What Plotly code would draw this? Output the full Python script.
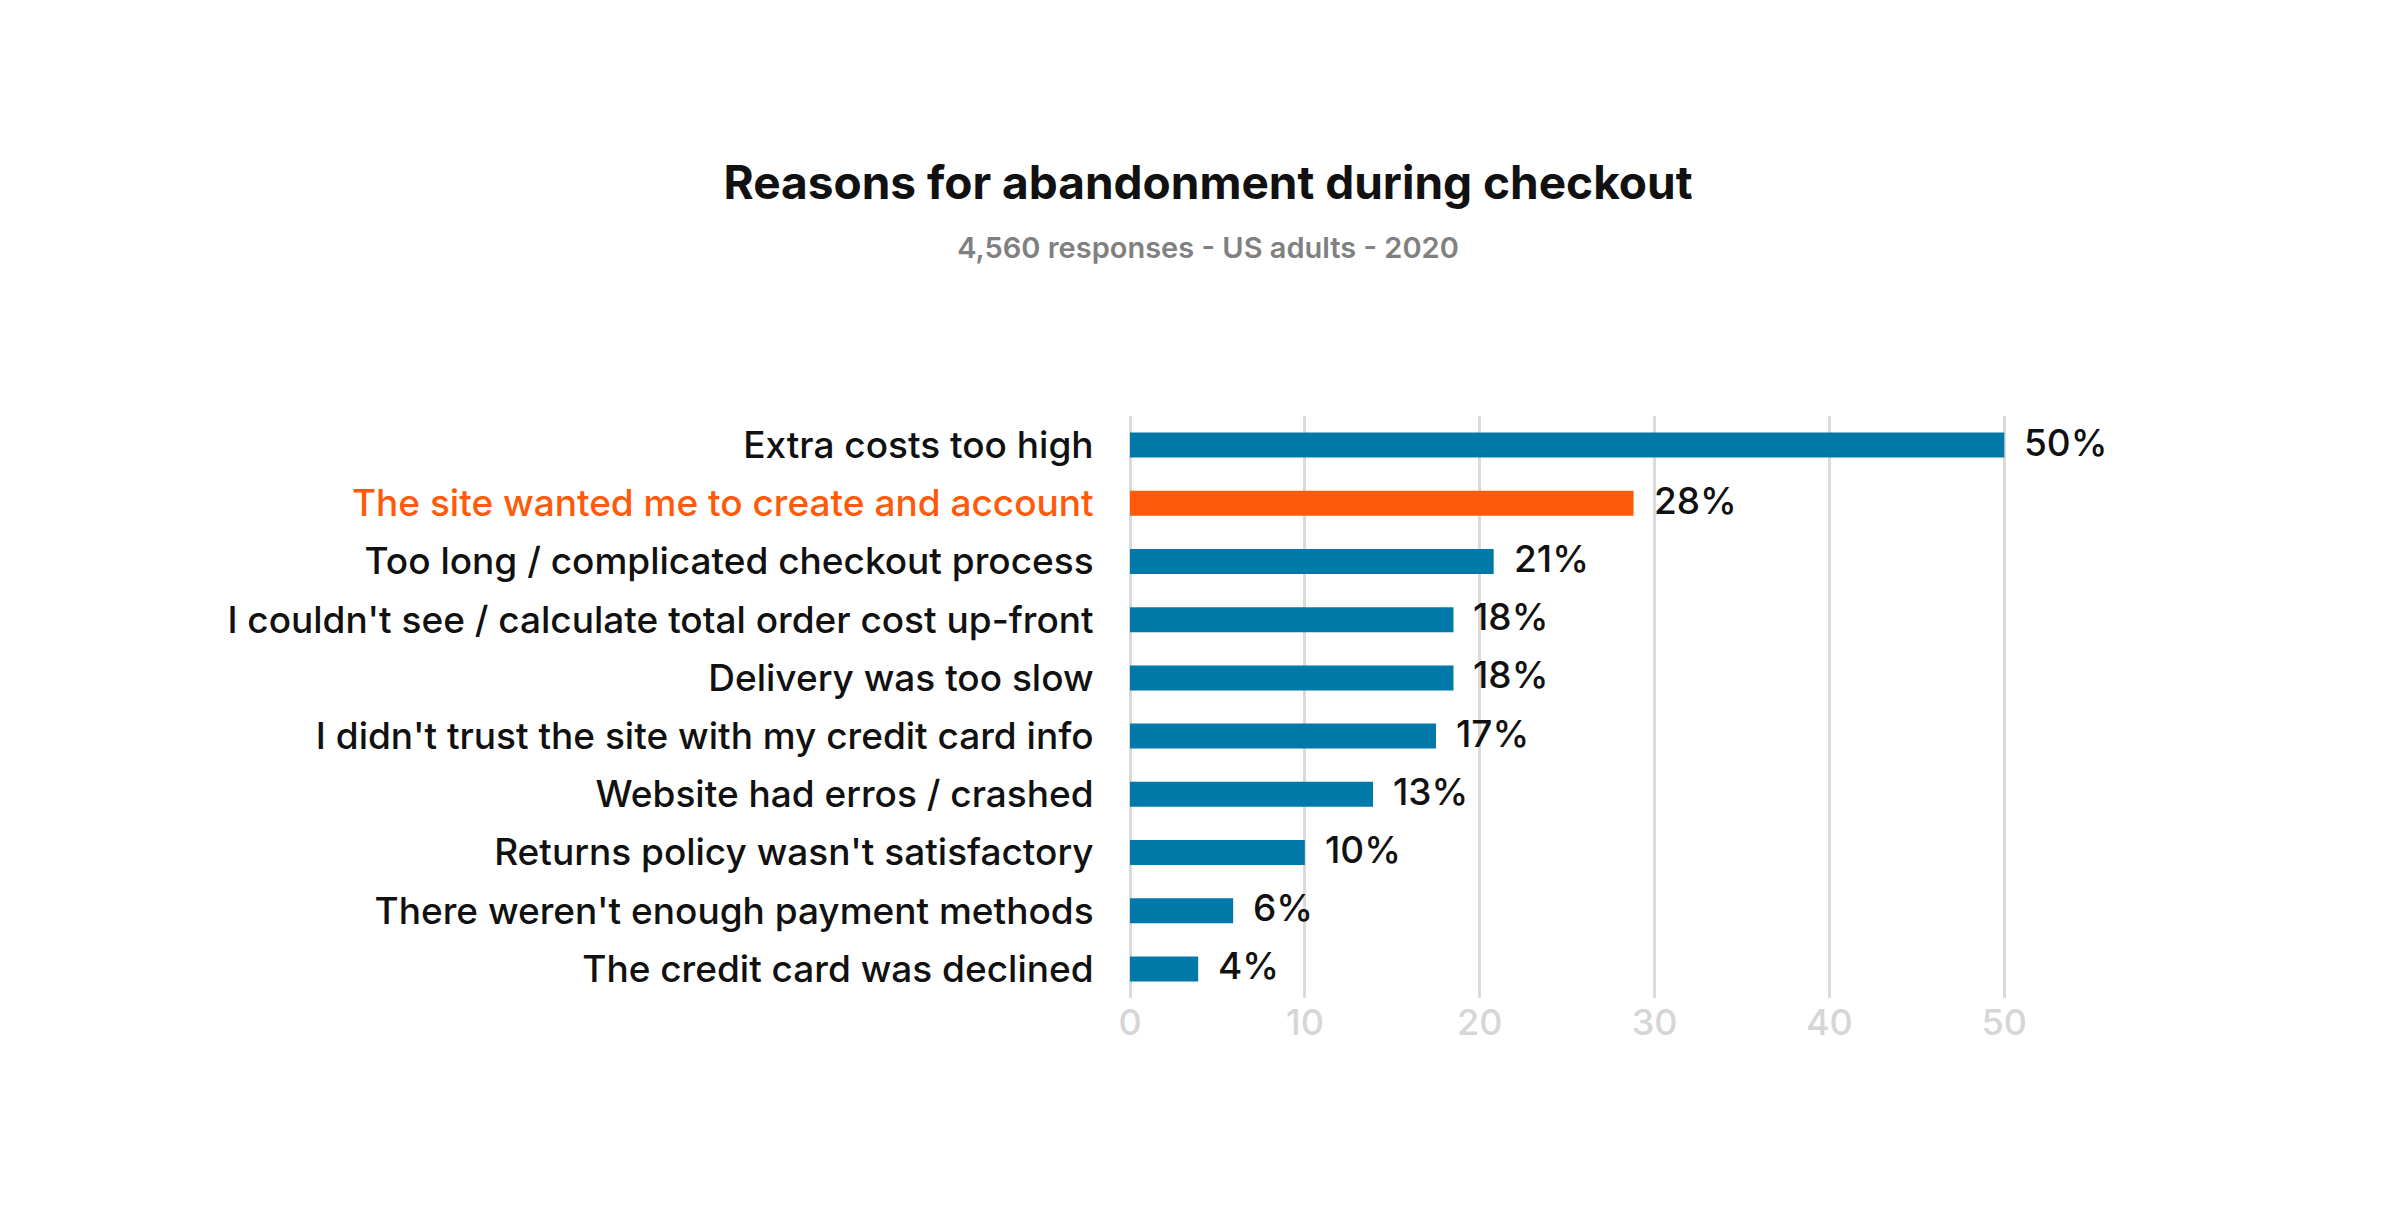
import plotly.graph_objects as go

reasons = [
    "Extra costs too high",
    "The site wanted me to create and account",
    "Too long / complicated checkout process",
    "I couldn't see / calculate total order cost up-front",
    "Delivery was too slow",
    "I didn't trust the site with my credit card info",
    "Website had erros / crashed",
    "Returns policy wasn't satisfactory",
    "There weren't enough payment methods",
    "The credit card was declined",
]
values = [50, 28.8, 20.8, 18.5, 18.5, 17.5, 13.9, 10, 5.9, 3.9]
labels = ["50%", "28%", "21%", "18%", "18%", "17%", "13%", "10%", "6%", "4%"]
highlight = 1

blue = "#0079A8"
orange = "#FF5A0A"
colors = [orange if i == highlight else blue for i in range(len(reasons))]
ticktext = [f"<span style='color:{orange}'>{r}</span>" if i == highlight else r
            for i, r in enumerate(reasons)]

fig = go.Figure(go.Bar(
    x=values, y=reasons, orientation="h",
    marker=dict(color=colors, line_width=0),
))

# value labels as annotations so they are not shrunk to the bar thickness
for r, v, lab in zip(reasons, values, labels):
    fig.add_annotation(x=v, y=r, text=lab, showarrow=False, xanchor="left",
                       xshift=18, yshift=3,
                       font=dict(size=37, color="#111111", family="Inter", weight=500))

fig.update_layout(
    width=2400, height=1230,
    paper_bgcolor="white", plot_bgcolor="white",
    margin=dict(l=1122, r=395, t=408, b=240),
    bargap=0.57,
    showlegend=False,
    font=dict(family="Inter", color="#111111"),
    title=dict(
        text="<b>Reasons for abandonment during checkout</b>"
             "<br><span style='font-size:29px;color:#808080;font-weight:600'>4,560 responses - US adults - 2020</span>",
        x=0.5, xanchor="center", y=0.845, yanchor="middle",
        font=dict(size=46, family="Inter", color="#111111"),
    ),
)
fig.update_xaxes(
    range=[0, 50.5], dtick=10, showgrid=True, gridcolor="#DADADA", gridwidth=3,
    zeroline=True, zerolinecolor="#DADADA", zerolinewidth=3,
    tickfont=dict(size=36, color="#D6D6D6", weight=500), ticks="", ticklen=12,
    showline=False,
)
fig.update_yaxes(
    autorange="reversed", tickmode="array", tickvals=reasons, ticktext=ticktext,
    tickfont=dict(size=37, color="#111111", weight=500), ticks="outside", ticklen=28,
    tickcolor="rgba(0,0,0,0)", showgrid=False,
)

fig.write_html("out.html")
